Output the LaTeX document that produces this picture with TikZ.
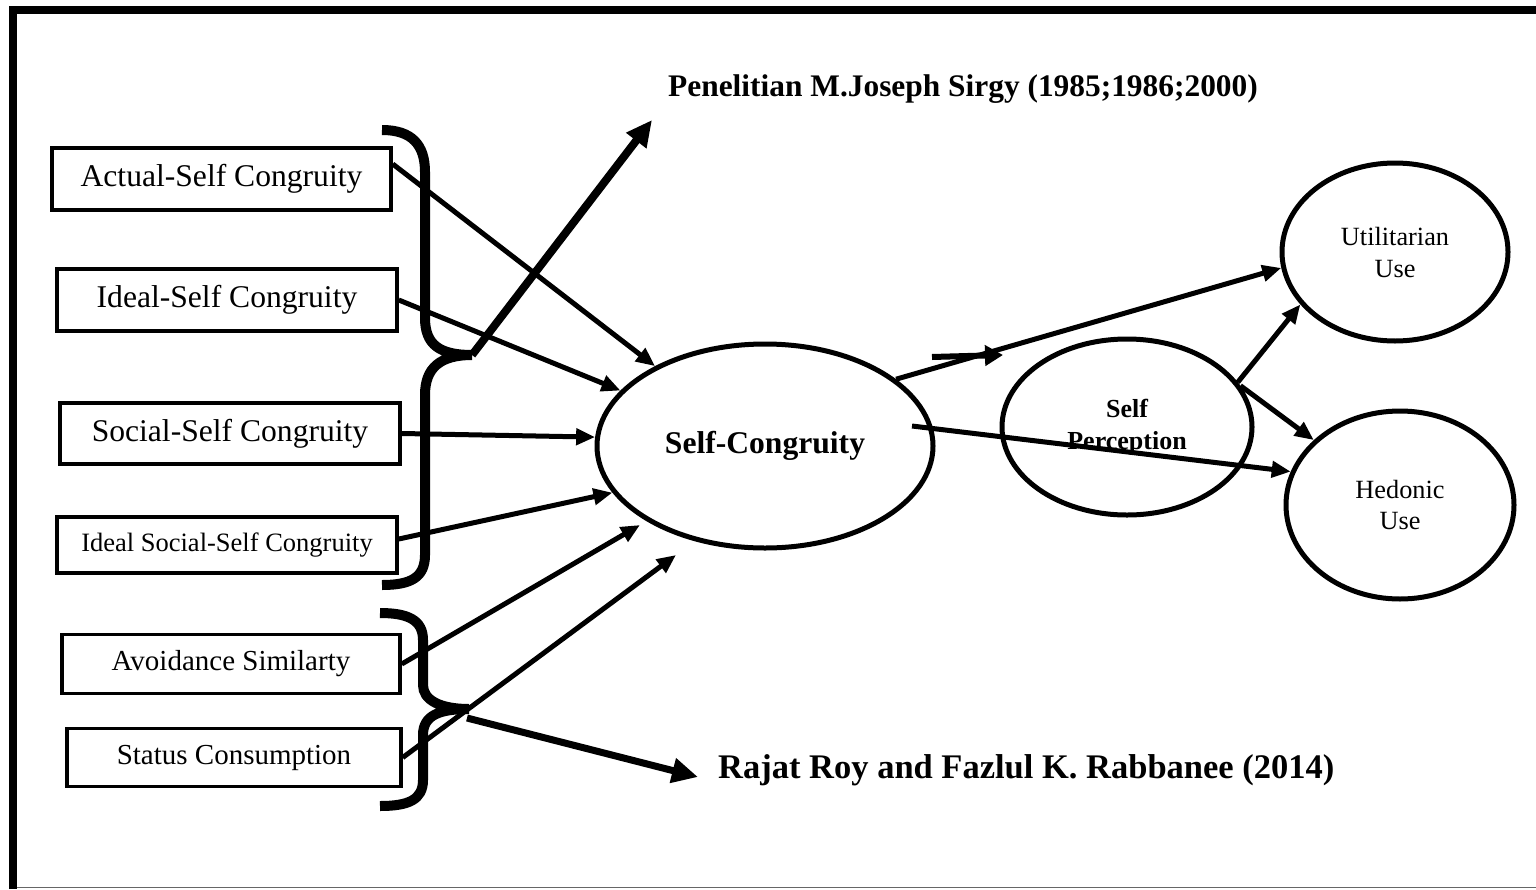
\documentclass[tikz,border=0pt]{standalone}
\usepackage{fontspec}
\setmainfont{Liberation Serif}
\usetikzlibrary{arrows.meta,calc,shapes.geometric}
\begin{document}
\begin{tikzpicture}[x=1pt,y=-1pt,
  box/.style={draw,line width=3.5pt,inner sep=0pt,font=\fontsize{31.6pt}{38pt}\selectfont},
  oval/.style={draw,ellipse,line width=5pt,inner sep=0pt,align=center},
  link/.style={line width=5pt,-{Triangle[length=19pt,width=16pt]}},
  bold arrow/.style={line width=8pt,-{Triangle[length=26pt,width=24pt]}},
  brace/.style={line width=10pt,line cap=butt}]

% page and frame
\useasboundingbox (0,0) rectangle (1536,889);
\fill[white] (0,0) rectangle (1536,889);
\draw[line width=8pt,line cap=butt] (13,889) -- (13,10) -- (1536,10);
\draw[line width=1.5pt,black!60] (17,887.5) -- (1536,887.5);

% source constructs
\node[box,minimum width=339pt,minimum height=62pt] (act) at (221.5,179) {Actual-Self Congruity};
\node[box,minimum width=340pt,minimum height=62pt] (ide) at (227,300) {Ideal-Self Congruity};
\node[box,minimum width=340pt,minimum height=61pt] (soc) at (230,433.5) {Social-Self Congruity};
\node[box,minimum width=340pt,minimum height=56pt,font=\fontsize{26.5pt}{32pt}\selectfont] (isoc) at (227,545) {Ideal Social-Self Congruity};
\node[box,minimum width=338pt,minimum height=59pt,font=\fontsize{29pt}{35pt}\selectfont] (avo) at (231,664) {Avoidance Similarty};
\node[box,minimum width=334pt,minimum height=58pt,font=\fontsize{29pt}{35pt}\selectfont] (sta) at (234,757.5) {Status Consumption};

% central and outcome constructs
\node[oval,minimum width=336pt,minimum height=204pt,font=\bfseries\fontsize{31.6pt}{38pt}\selectfont] (sc) at (765,446) {Self-Congruity};
\node[oval,minimum width=250pt,minimum height=176pt,font=\bfseries\fontsize{26pt}{32pt}\selectfont] (sp) at (1127,427) {Self\\Perception};
\node[oval,minimum width=226pt,minimum height=178pt,font=\fontsize{26.3pt}{32pt}\selectfont] (ut) at (1395,252) {Utilitarian\\Use};
\node[oval,minimum width=228pt,minimum height=188pt,font=\fontsize{26.3pt}{31pt}\selectfont] (hd) at (1400,505) {Hedonic\\Use};

% source labels
\node[anchor=west,inner sep=0pt,font=\bfseries\fontsize{31.4pt}{38pt}\selectfont] (sirgy) at (668,89) {Penelitian M.Joseph Sirgy (1985;1986;2000)};
\node[anchor=west,inner sep=0pt,font=\bfseries\fontsize{34.5pt}{41pt}\selectfont] (roy) at (718,770) {Rajat Roy and Fazlul K. Rabbanee (2014)};

% braces grouping the constructs
\coordinate (b1tip) at (472,355);
\coordinate (b2tip) at (469,709);
\draw[brace] (382,130) .. controls (412,130) and (425,145) .. (425,172) -- (425,318)
  .. controls (425,345) and (440,355) .. (b1tip)
  .. controls (440,355) and (425,368) .. (425,395) -- (425,555)
  .. controls (425,578) and (410,585) .. (382,585);
\draw[brace] (380,613) .. controls (408,613) and (423,620) .. (423,640) -- (423,685)
  .. controls (423,700) and (440,709) .. (b2tip)
  .. controls (440,709) and (423,715) .. (423,735) -- (423,780)
  .. controls (423,800) and (408,806) .. (380,806);

% arrows from the braces to the source labels
\coordinate (sirgytip) at (652,120);
\coordinate (roytip) at (698,777);
\draw[bold arrow] (b1tip) -- (sirgytip);
\draw[bold arrow,line width=7pt] ($(b2tip)+(-2,9)$) -- (roytip);

% arrows into Self-Congruity
\coordinate (avotip) at (640,525);
\coordinate (statip) at (676,555);
\draw[link] (act.5) -- (sc.144);
\draw[link] (ide.east) -- (sc.159.5);
\draw[link] (soc.east) -- (sc.177.6);
\draw[link] (isoc.2) -- (sc.197);
\draw[link] (avo.east) -- (avotip);
\draw[link] (sta.east) -- (statip);

% arrows out of Self-Congruity
\coordinate (hdstart) at (912,426);
\draw[link] (sc.27.6) -- (ut.188);
\draw[link] (hdstart) -- (hd.163);
\coordinate (stubA) at (932,357);
\coordinate (stubB) at (1003,355);
\draw[line width=6pt,-{Triangle[length=18pt,width=20pt]}] (stubA) -- (stubB);

% arrows out of Self Perception
\draw[link] (sp.22) -- (ut.209);
\draw[link] (sp.20) -- (hd.143.5);
\end{tikzpicture}
\end{document}
